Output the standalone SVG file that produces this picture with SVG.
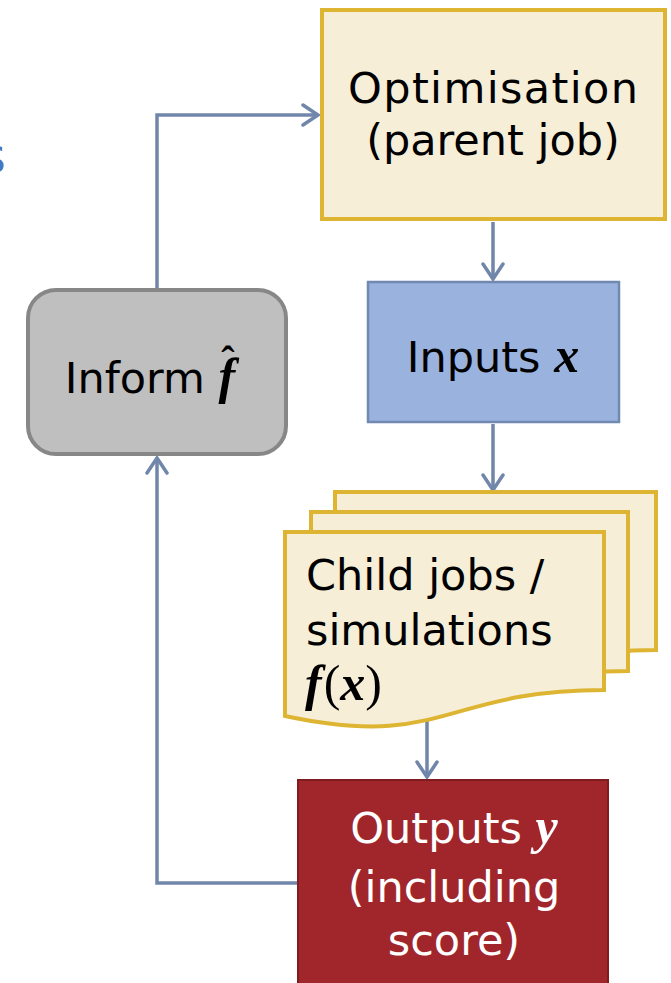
<svg xmlns="http://www.w3.org/2000/svg" width="671" height="983" viewBox="0 0 671 983">
<style>
.lbl{font-family:"DejaVu Sans","Liberation Sans",sans-serif;font-size:43px;fill:#000}
.w{fill:#fff}
.m{font-family:"Liberation Serif","DejaVu Serif",serif;font-weight:bold;font-style:italic;font-size:50px}
.up{font-weight:normal;font-style:normal}
.doc{fill:#F6EED7;stroke:#DDB533;stroke-width:4}
.conn{fill:none;stroke:#7086AA;stroke-width:3.5}
</style>
<defs>
<marker id="ah" viewBox="0 0 20 24" refX="18" refY="12" markerWidth="20" markerHeight="24" markerUnits="userSpaceOnUse" orient="auto">
<path d="M3,2 L18,12 L3,22" fill="none" stroke="#7086AA" stroke-width="3.5" stroke-linecap="round" stroke-linejoin="miter"/>
</marker>
</defs>
<text x="6" y="173" text-anchor="end" style="font-family:'DejaVu Sans',sans-serif;font-size:50px;fill:#3F7BC4">s</text>
<g id="connectors">
<path class="conn" d="M157,289 V115 H318" marker-end="url(#ah)"/>
<path class="conn" d="M493,222 V279" marker-end="url(#ah)"/>
<path class="conn" d="M493,424 V490" marker-end="url(#ah)"/>
<path class="conn" d="M427,719 V777" marker-end="url(#ah)"/>
<path class="conn" d="M297,883 H157 V458" marker-end="url(#ah)"/>
</g>
<g id="optimisation">
<rect x="322" y="10" width="343" height="209" fill="#F6EED7" stroke="#DDB533" stroke-width="4"/>
<text class="lbl" x="493" y="103" text-anchor="middle" textLength="290" lengthAdjust="spacing">Optimisation</text>
<text class="lbl" x="493" y="155" text-anchor="middle">(parent job)</text>
</g>
<g id="inputs">
<rect x="368" y="282" width="251" height="140" fill="#9AB2DE" stroke="#7089B0" stroke-width="2.5"/>
<text class="lbl" x="493" y="372" text-anchor="middle">Inputs <tspan class="m">x</tspan></text>
</g>
<g id="inform">
<rect x="28" y="290" width="258" height="164" rx="28" ry="28" fill="#BFBFBF" stroke="#878787" stroke-width="4"/>
<text class="lbl" x="150" y="393" text-anchor="middle">Inform <tspan class="m">f</tspan></text>
<text x="228" y="374" text-anchor="middle" style="font-family:'Liberation Serif',serif;font-weight:bold;font-size:40px;fill:#000">ˆ</text>
</g>
<g id="child-jobs">
<path class="doc" d="M335,492 H656 V650 C495,650 495,710 335,676 Z"/>
<path class="doc" d="M311,512 H628 V671 C470,671 470,731 311,697 Z"/>
<path class="doc" d="M285,532 H604 V690 C444,690 444,750 285,716 Z"/>
<text class="lbl" x="306" y="590">Child jobs /</text>
<text class="lbl" x="306" y="645">simulations</text>
<text class="m" x="305" y="700">f<tspan class="up" dx="2">(</tspan>x<tspan class="up">)</tspan></text>
</g>
<g id="outputs">
<rect x="298" y="780" width="310" height="206" fill="#A1262B" stroke="#7E1C20" stroke-width="2"/>
<text class="lbl w" x="454" y="843" text-anchor="middle">Outputs <tspan class="m">y</tspan></text>
<text class="lbl w" x="454" y="902" text-anchor="middle">(including</text>
<text class="lbl w" x="454" y="955" text-anchor="middle">score)</text>
</g>
</svg>
